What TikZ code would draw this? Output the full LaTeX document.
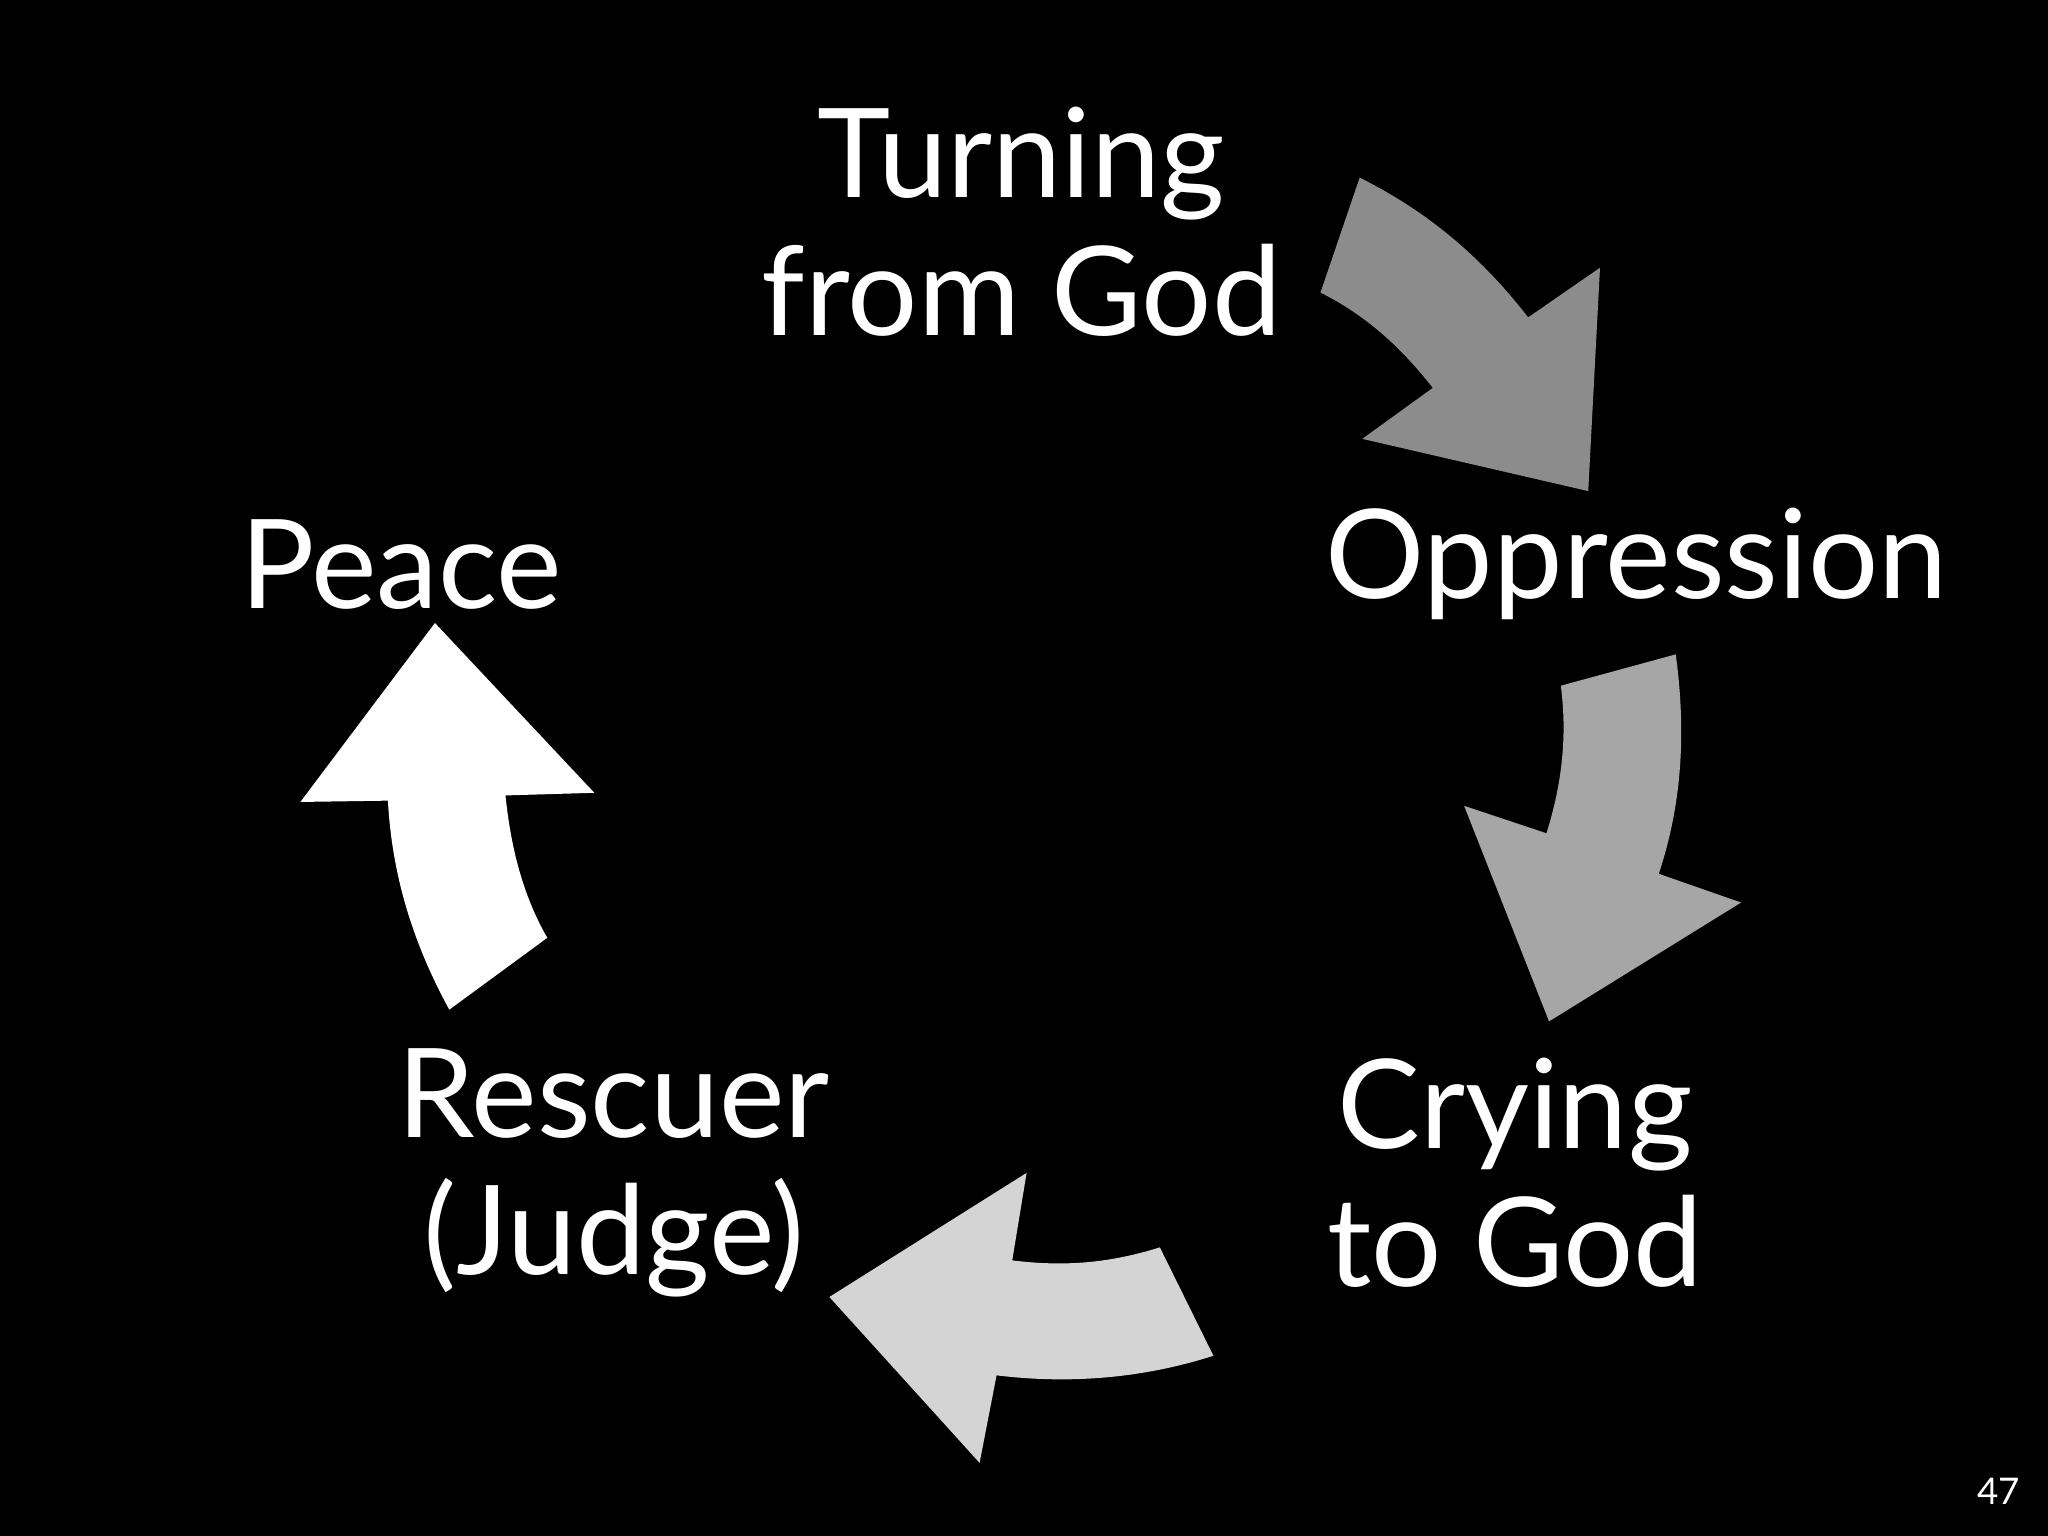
\documentclass[tikz,border=0pt]{standalone}
\usepackage{fontspec}
\setmainfont{Lato}
\begin{document}
\begin{tikzpicture}[x=0.01cm,y=-0.01cm,
  lbl/.style={text=white,font=\fontsize{27}{30}\selectfont,align=center,inner sep=0pt}]
\fill[black] (0,0) rectangle (1568,1176);
\useasboundingbox (0,0) rectangle (1568,1176);
% arrow 1
\fill[gray!85!white!100, fill=black!45] (1041,136) .. controls (1095,163) and (1135,198) .. (1170,243)
  -- (1225,205) -- (1216,376) -- (1043,336) -- (1097,297)
  .. controls (1072,265) and (1045,241) .. (1011,224) -- cycle;
% arrow 2
\fill[black!35] (1195,525) -- (1283,501) .. controls (1291,560) and (1288,615) .. (1270,669)
  -- (1333,691) -- (1186,782) -- (1121,617) -- (1184,638)
  .. controls (1196,600) and (1200,563) .. (1195,525) -- cycle;
% arrow 3
\fill[black!17] (775,965) .. controls (815,970) and (850,967) .. (888,955) -- (929,1038)
  .. controls (876,1055) and (820,1060) .. (763,1053) -- (750,1120) -- (635,993) -- (786,898) -- cycle;
% arrow 4
\fill[white] (344,773) .. controls (315,720) and (300,668) .. (297,613) -- (230,614) -- (333,477)
  -- (455,607) -- (387,609) .. controls (391,648) and (400,685) .. (419,718) -- cycle;
\node[lbl] (t) at (782,170) {Turning\\from God};
\node[lbl] (o) at (1253,432) {Oppression};
\node[lbl] (c) at (1160,898) {Crying\\to God};
\node[lbl] (r) at (470,898) {Rescuer\\(Judge)};
\node[lbl] (p) at (307,432) {Peace};
\node[text=white,font=\fontsize{8}{9}\selectfont,inner sep=0pt] (n) at (1530,1142) {47};
\end{tikzpicture}
\end{document}
